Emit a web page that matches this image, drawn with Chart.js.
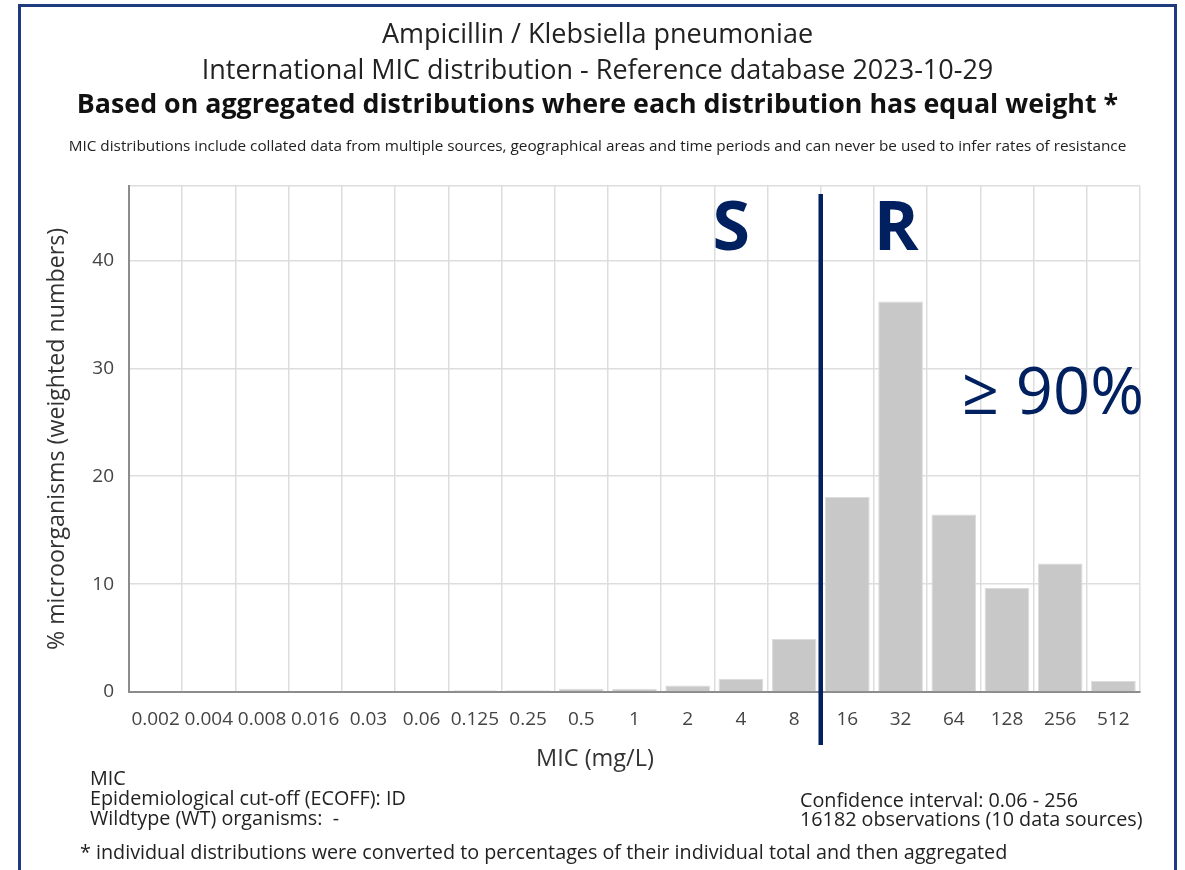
<!DOCTYPE html>
<html>
<head>
<meta charset="utf-8">
<script src="https://cdn.jsdelivr.net/npm/chart.js@4.4.0/dist/chart.umd.min.js"></script>
<style>
  html, body { margin: 0; padding: 0; background: #fff; }
  body { width: 1185px; height: 870px; position: relative; overflow: hidden; font-family: 'Open Sans', sans-serif; color: #222; }
  #frame { position: absolute; left: 18px; top: 4px; width: 1159px; height: 900px; box-sizing: border-box; border: 3px solid #1f3b7d; }
  #chart { position: absolute; left: 0; top: 0; }
  .t { position: absolute; left: 18px; width: 1159px; text-align: center; white-space: nowrap; }
  .f { position: absolute; white-space: nowrap; font-size: 19.75px; line-height: 20px; color: #222; }
</style>
</head>
<body>
<canvas id="chart" width="1185" height="870"></canvas>
<div id="frame"></div>
<div class="t" style="top:15px;font-size:27px;line-height:36px;color:#222;">Ampicillin / Klebsiella pneumoniae</div>
<div class="t" style="top:51px;font-size:27px;line-height:36px;color:#222;">International MIC distribution - Reference database 2023-10-29</div>
<div class="t" style="top:85px;font-size:26.8px;line-height:36px;font-weight:bold;color:#111;">Based on aggregated distributions where each distribution has equal weight *</div>
<div class="t" style="top:134px;font-size:15.3px;line-height:22px;color:#222;">MIC distributions include collated data from multiple sources, geographical areas and time periods and can never be used to infer rates of resistance</div>
<div class="t" style="top:742px;left:0;width:1190px;font-size:23.5px;line-height:30px;color:#333;">MIC (mg/L)</div>
<div class="f" style="left:90px;top:768px;">MIC</div>
<div class="f" style="left:90px;top:788px;">Epidemiological cut-off (ECOFF): ID</div>
<div class="f" style="left:90px;top:808px;">Wildtype (WT) organisms:&nbsp; -</div>
<div class="f" style="left:800px;top:790px;">Confidence interval: 0.06 - 256</div>
<div class="f" style="left:800px;top:809px;">16182 observations (10 data sources)</div>
<div class="f" style="left:80px;top:842px;">* individual distributions were converted to percentages of their individual total and then aggregated</div>
<script>
// ---- data ----
const micLabels = ['0.002','0.004','0.008','0.016','0.03','0.06','0.125','0.25','0.5','1','2','4','8','16','32','64','128','256','512'];
const percentValues = [0, 0, 0, 0, 0, 0, 0.16, 0.16, 0.3, 0.3, 0.6, 1.22, 4.92, 18.08, 36.2, 16.46, 9.63, 11.91, 1.02];
const yTickStep = 10;
const yMax = 46.9;
// breakpoint between S (<= 8) and R (>= 16): between category index 12 and 13
const breakpointAfterIndex = 12;
const labelS = 'S';
const labelR = 'R';
const labelPct = '\u2265 90%';

const navy = '#002060';

const annotationPlugin = {
  id: 'srAnnotations',
  afterDatasetsDraw(chart) {
    const { ctx, chartArea } = chart;
    const xs = chart.scales.x, ys = chart.scales.y;
    const xLine = (xs.getPixelForValue(breakpointAfterIndex) + xs.getPixelForValue(breakpointAfterIndex + 1)) / 2;
    ctx.save();
    ctx.strokeStyle = navy;
    ctx.lineWidth = 4.5;
    ctx.beginPath();
    ctx.moveTo(xLine, ys.getPixelForValue(46.15));
    ctx.lineTo(xLine, chartArea.bottom + 53);
    ctx.stroke();

    ctx.fillStyle = navy;
    ctx.textBaseline = 'alphabetic';
    ctx.textAlign = 'center';
    ctx.font = 'bold 68px "Open Sans"';
    ctx.fillText(labelS, xs.getPixelForValue(10.82), ys.getPixelForValue(41.0));
    ctx.fillText(labelR, xs.getPixelForValue(13.92), ys.getPixelForValue(41.0));
    ctx.textAlign = 'left';
    ctx.font = '65px "Open Sans"';
    ctx.fillText(labelPct, xs.getPixelForValue(15.15), ys.getPixelForValue(25.8));
    ctx.restore();
  }
};

new Chart(document.getElementById('chart'), {
  type: 'bar',
  data: {
    labels: micLabels,
    datasets: [{
      data: percentValues,
      backgroundColor: '#c8c8c8',
      borderColor: '#dcdcdc',
      borderWidth: 1,
      categoryPercentage: 1.0,
      barPercentage: 0.84
    }]
  },
  options: {
    responsive: false,
    animation: false,
    layout: { padding: { left: 0, top: 186, right: 45, bottom: 138 } },
    plugins: { legend: { display: false }, tooltip: { enabled: false } },
    scales: {
      x: {
        afterFit: (s) => { s.height = 40; },
        grid: { color: '#dddddd', lineWidth: 1.5, drawTicks: false, offset: true },
        border: { color: '#8c8c8c', width: 2 },
        ticks: { color: '#444', font: { family: 'Open Sans', size: 19 }, padding: 16, maxRotation: 0, autoSkip: false }
      },
      y: {
        min: 0,
        max: yMax,
        afterFit: (s) => { s.width = 129; },
        grid: { color: '#dddddd', lineWidth: 1.5, drawTicks: false },
        border: { color: '#8c8c8c', width: 2 },
        ticks: {
          stepSize: yTickStep,
          color: '#444',
          font: { family: 'Open Sans', size: 19 },
          padding: 15,
          callback: (v) => (v % yTickStep === 0 ? v : '')
        },
        title: {
          display: true,
          text: '% microorganisms (weighted numbers)',
          color: '#333',
          font: { family: 'Open Sans', size: 23.2 },
          padding: { top: 43, bottom: 0 }
        }
      }
    }
  },
  plugins: [annotationPlugin]
});
</script>
</body>
</html>
